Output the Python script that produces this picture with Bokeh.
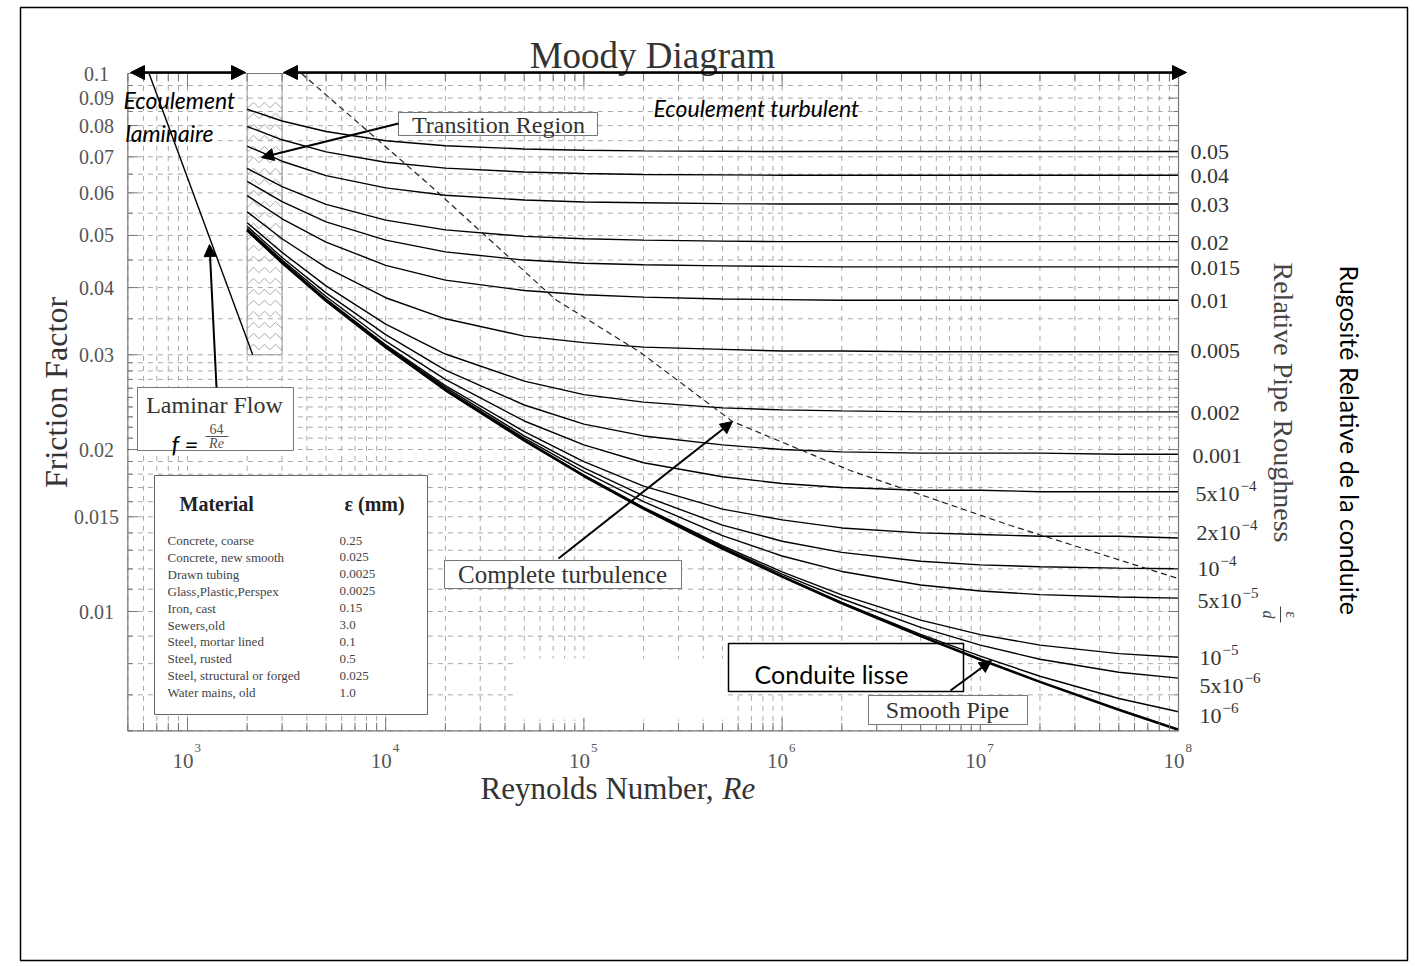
import math
from bokeh.plotting import figure
from bokeh.models import Range1d, LogScale, Arrow, NormalHead
from bokeh.core.properties import value
from bokeh.embed import file_html
from bokeh.resources import INLINE

# ---------------- data ----------------
RE = [2000, 3000, 5000, 1e4, 2e4, 5e4, 1e5, 2e5, 5e5, 1e6, 2e6, 5e6, 1e7, 2e7, 5e7, 1e8]

F_R0050 = [0.0858, 0.0816, 0.0780, 0.0750, 0.0734, 0.0724, 0.0720, 0.0718, 0.0717, 0.0716, 0.0716, 0.0716, 0.0716, 0.0716, 0.0716, 0.0716]
F_R0040 = [0.0797, 0.0753, 0.0715, 0.0684, 0.0667, 0.0656, 0.0652, 0.0649, 0.0648, 0.0647, 0.0647, 0.0647, 0.0647, 0.0647, 0.0647, 0.0647]
F_R0030 = [0.0733, 0.0687, 0.0646, 0.0613, 0.0594, 0.0582, 0.0577, 0.0575, 0.0573, 0.0572, 0.0572, 0.0572, 0.0572, 0.0572, 0.0572, 0.0572]
F_R0020 = [0.0666, 0.0616, 0.0571, 0.0534, 0.0512, 0.0498, 0.0493, 0.0490, 0.0488, 0.0487, 0.0487, 0.0487, 0.0487, 0.0487, 0.0487, 0.0487]
F_R0015 = [0.0630, 0.0578, 0.0530, 0.0490, 0.0466, 0.0450, 0.0444, 0.0441, 0.0439, 0.0438, 0.0437, 0.0437, 0.0437, 0.0437, 0.0437, 0.0437]
F_R0010 = [0.0593, 0.0537, 0.0486, 0.0440, 0.0413, 0.0395, 0.0388, 0.0384, 0.0381, 0.0380, 0.0379, 0.0379, 0.0379, 0.0379, 0.0379, 0.0379]
F_R0005 = [0.0553, 0.0493, 0.0436, 0.0383, 0.0350, 0.0325, 0.0316, 0.0310, 0.0307, 0.0305, 0.0305, 0.0304, 0.0304, 0.0304, 0.0304, 0.0304]
F_R0002 = [0.0528, 0.0465, 0.0403, 0.0342, 0.0301, 0.0268, 0.0253, 0.0245, 0.0239, 0.0237, 0.0236, 0.0235, 0.0235, 0.0235, 0.0235, 0.0235]
F_R0001 = [0.0520, 0.0455, 0.0391, 0.0327, 0.0281, 0.0242, 0.0223, 0.0212, 0.0204, 0.0200, 0.0198, 0.0197, 0.0197, 0.0197, 0.0196, 0.0196]
F_R5E4 = [0.0515, 0.0450, 0.0385, 0.0318, 0.0270, 0.0226, 0.0204, 0.0189, 0.0178, 0.0173, 0.0170, 0.0168, 0.0168, 0.0167, 0.0167, 0.0167]
F_R2E4 = [0.0513, 0.0447, 0.0381, 0.0313, 0.0263, 0.0216, 0.0190, 0.0171, 0.0155, 0.0148, 0.0143, 0.0140, 0.0139, 0.0138, 0.0138, 0.0137]
F_R1E4 = [0.0512, 0.0446, 0.0380, 0.0311, 0.0261, 0.0212, 0.0185, 0.0164, 0.01447, 0.01351, 0.01288, 0.01240, 0.01221, 0.01211, 0.01204, 0.01201]
F_R5E5 = [0.0511, 0.0445, 0.0379, 0.0311, 0.0259, 0.0210, 0.0182, 0.0160, 0.01384, 0.01268, 0.01187, 0.01120, 0.01092, 0.01075, 0.01064, 0.01059]
F_R1E5 = [0.0511, 0.0445, 0.0379, 0.0310, 0.0258, 0.0208, 0.01792, 0.01562, 0.01325, 0.01185, 0.01074, 0.00964, 0.00906, 0.00866, 0.00835, 0.00822]
F_R5E6 = [0.0511, 0.0445, 0.0379, 0.0310, 0.0258, 0.0208, 0.01789, 0.01558, 0.01317, 0.01173, 0.01056, 0.00934, 0.00866, 0.00815, 0.00771, 0.00752]
F_R1E6 = [0.0511, 0.0445, 0.0378, 0.0310, 0.0258, 0.0208, 0.01787, 0.01554, 0.01311, 0.01163, 0.01040, 0.00907, 0.00826, 0.00758, 0.00689, 0.00651]
F_SMOOTH = [0.0511, 0.0445, 0.0378, 0.0310, 0.0258, 0.0208, 0.01786, 0.01553, 0.01309, 0.01161, 0.01036, 0.00900, 0.00814, 0.00740, 0.00657, 0.00603]

ROUGH_CURVES = [F_R0050, F_R0040, F_R0030, F_R0020, F_R0015, F_R0010, F_R0005, F_R0002,
                F_R0001, F_R5E4, F_R2E4, F_R1E4, F_R5E5, F_R1E5, F_R5E6, F_R1E6]
# right-hand labels: mantissa part and exponent part
ROUGH_BASE = ["0.05", "0.04", "0.03", "0.02", "0.015", "0.01", "0.005", "0.002",
              "0.001", "5x10", "2x10", "10", "5x10", "10", "5x10", "10"]
ROUGH_EXP = ["", "", "", "", "", "", "", "", "",
             "\u22124", "\u22124", "\u22124", "\u22125", "\u22125", "\u22126", "\u22126"]

LAMINAR_RE = [640, 2133]
LAMINAR_F = [0.1, 0.03]

BOUNDARY_RE = [3760, 17200, 71900, 193000, 562000, 2.21e6, 1.42e7, 1e8]
BOUNDARY_F = [0.1, 0.0614, 0.0380, 0.0303, 0.02255, 0.01828, 0.01445, 0.01151]

TRANSITION_RE = [2000, 3000]
TRANSITION_F = [0.03, 0.09]

RE_MIN, RE_MAX = 500, 1e8
F_MIN, F_MAX = 0.006, 0.1

X_TICKS = [1e3, 1e4, 1e5, 1e6, 1e7, 1e8]
X_TICK_EXP = ["3", "4", "5", "6", "7", "8"]
Y_TICKS = [0.01, 0.015, 0.02, 0.03, 0.04, 0.05, 0.06, 0.07, 0.08, 0.09, 0.1]
Y_TICK_LABELS = ["0.01", "0.015", "0.02", "0.03", "0.04", "0.05", "0.06", "0.07", "0.08", "0.09", "0.1"]
Y_GRID = [round(0.006 + 0.001 * i, 3) for i in range(25)] + [round(0.035 + 0.005 * i, 3) for i in range(14)]
X_GRID = [m * 10 ** e for e in range(2, 8) for m in range(1, 10) if RE_MIN <= m * 10 ** e <= RE_MAX] + [RE_MAX]

MATERIALS = ["Concrete, coarse", "Concrete, new smooth", "Drawn tubing", "Glass,Plastic,Perspex",
             "Iron, cast", "Sewers,old", "Steel, mortar lined", "Steel, rusted",
             "Steel, structural or forged", "Water mains, old"]
EPS_MM = ["0.25", "0.025", "0.0025", "0.0025", "0.15", "3.0", "0.1", "0.5", "0.025", "1.0"]

# ---------------- layout (page pixels) ----------------
W, H = 1412, 964
OX, OY = 0, 0
X_DEC, X_E3 = 198.2, 187.0   # px per decade, page x of Re = 1e3
Y_DEC, Y_E1 = 538.0, 73.0    # px per decade, page y of f = 0.1


def xpx(re):
    return X_E3 + X_DEC * (math.log10(re) - 3)


def ypx(f):
    return Y_E1 + Y_DEC * (-1 - math.log10(f))


re_left = 10 ** (3 - (X_E3 - OX) / X_DEC)
re_right = 10 ** (3 + (OX + W - X_E3) / X_DEC)
f_top = 10 ** (-1 + (Y_E1 - OY) / Y_DEC)
f_bottom = 10 ** (-1 - (OY + H - Y_E1) / Y_DEC)

p = figure(width=W, height=H, x_range=Range1d(OX, OX + W), y_range=Range1d(OY + H, OY),
           x_axis_location=None, y_axis_location=None, min_border=0, title=None,
           output_backend="svg", toolbar_location=None)
p.grid.visible = False
p.outline_line_color = None
p.background_fill_color = "white"
p.border_fill_color = "white"
p.extra_x_ranges = {"re": Range1d(re_left, re_right)}
p.extra_x_scales = {"re": LogScale()}
p.extra_y_ranges = {"f": Range1d(f_bottom, f_top)}
p.extra_y_scales = {"f": LogScale()}

GRID_COL = "#a8a8a8"
AX_COL = "#777777"
SERIF = "Liberation Serif"
SANS = "Lato"


def txt(x, y, s, size, font=SERIF, color="#333333", align="left", baseline="middle",
        style="normal", angle=0.0, xr="default", yr="default"):
    p.text(x=[x], y=[y], text=[s], text_font=value(font), text_font_size=f"{size}px",
           text_color=color, text_align=align, text_baseline=baseline,
           text_font_style=style, angle=angle, x_range_name=xr, y_range_name=yr)


def box(l, t, r, b, line="#777777", lw=1.0, fill="white"):
    p.quad(left=[l], right=[r], top=[t], bottom=[b], fill_color=fill, line_color=line, line_width=lw)


def arrow(x0, y0, x1, y1, both=False, size=12, lw=2.0):
    kw = dict(end=NormalHead(size=size, fill_color="black", line_color="black"),
              x_start=x0, y_start=y0, x_end=x1, y_end=y1, line_width=lw, line_color="black")
    if both:
        kw["start"] = NormalHead(size=size, fill_color="black", line_color="black")
    p.add_layout(Arrow(**kw))


# outer border
p.quad(left=[20], right=[1407], top=[7], bottom=[960], fill_color=None, line_color="black", line_width=1.5)

# grid
p.segment(x0=X_GRID, x1=X_GRID, y0=[F_MIN] * len(X_GRID), y1=[F_MAX] * len(X_GRID),
          x_range_name="re", y_range_name="f", line_color=GRID_COL, line_width=1, line_dash="5 5")
p.segment(x0=[RE_MIN] * len(Y_GRID), x1=[RE_MAX] * len(Y_GRID), y0=Y_GRID, y1=Y_GRID,
          x_range_name="re", y_range_name="f", line_color=GRID_COL, line_width=1, line_dash="5 5")

# white patch that hides the grid under the figure
p.quad(left=[515], right=[723], top=[658], bottom=[719], fill_color="white", line_color=None)

# material table
box(154, 475, 427, 714, line="#666666")
txt(179, 503, "Material", 20, style="bold", baseline="alphabetic", color="#222222")
txt(344, 503, "\u03b5 (mm)", 20, style="bold", baseline="alphabetic", color="#222222")
for i, (m, e) in enumerate(zip(MATERIALS, EPS_MM)):
    yb = 540 + 16.9 * i
    txt(167, yb, m, 13, baseline="alphabetic", color="#444444")
    txt(339, yb, e, 13, baseline="alphabetic", color="#444444")

# transition region
p.quad(left=[TRANSITION_RE[0]], right=[TRANSITION_RE[1]], bottom=[TRANSITION_F[0]], top=[TRANSITION_F[1]],
       x_range_name="re", y_range_name="f", fill_color=None, line_color=None,
       hatch_pattern="horizontal_wave", hatch_color="#aaaaaa", hatch_scale=11, hatch_weight=1)
p.quad(left=[TRANSITION_RE[0]], right=[TRANSITION_RE[1]], bottom=[TRANSITION_F[0]], top=[F_MAX],
       x_range_name="re", y_range_name="f", fill_color=None, line_color="#999999", line_width=1)

# "Conduite lisse" box (under the curves)
box(728, 643, 963, 691, line="black", lw=1.5)

# curves
for fv in ROUGH_CURVES:
    p.line(RE, fv, x_range_name="re", y_range_name="f", line_color="black", line_width=1.4)
p.line(RE, F_SMOOTH, x_range_name="re", y_range_name="f", line_color="black", line_width=2.6)
p.line(LAMINAR_RE, LAMINAR_F, x_range_name="re", y_range_name="f", line_color="black", line_width=1.4)
p.line(BOUNDARY_RE, BOUNDARY_F, x_range_name="re", y_range_name="f", line_color="#222222",
       line_width=1.2, line_dash="6 4")

# frame
p.quad(left=[RE_MIN], right=[RE_MAX], bottom=[F_MIN], top=[F_MAX], x_range_name="re", y_range_name="f",
       fill_color=None, line_color=AX_COL, line_width=1.2)

# ticks
xl, xr_ = xpx(RE_MIN), xpx(RE_MAX)
yb_, yt_ = ypx(F_MIN), ypx(F_MAX)
ylen = [10 if v in Y_TICKS else 5 for v in Y_GRID]
p.segment(x0=[xl] * len(Y_GRID), x1=[xl + L for L in ylen], y0=Y_GRID, y1=Y_GRID,
          y_range_name="f", line_color=AX_COL, line_width=1)
p.segment(x0=[xr_] * len(Y_GRID), x1=[xr_ - L for L in ylen], y0=Y_GRID, y1=Y_GRID,
          y_range_name="f", line_color=AX_COL, line_width=1)
xlen = [13 if v in X_TICKS else 8 for v in X_GRID]
p.segment(x0=X_GRID, x1=X_GRID, y0=[yb_] * len(X_GRID), y1=[yb_ - L for L in xlen],
          x_range_name="re", line_color=AX_COL, line_width=1)
p.segment(x0=X_GRID, x1=X_GRID, y0=[yt_] * len(X_GRID), y1=[yt_ + L for L in xlen],
          x_range_name="re", line_color=AX_COL, line_width=1)

# tick labels
p.text(x=[96] * len(Y_TICKS), y=Y_TICKS, text=Y_TICK_LABELS, y_range_name="f",
       text_font=value(SERIF), text_font_size="20px", text_color="#555555",
       text_align="center", text_baseline="middle")
p.text(x=X_TICKS, y=[760] * len(X_TICKS), text=["10"] * len(X_TICKS), x_range_name="re",
       x_offset=6, text_font=value(SERIF), text_font_size="21px", text_color="#555555",
       text_align="right", text_baseline="middle")
p.text(x=X_TICKS, y=[747] * len(X_TICKS), text=X_TICK_EXP, x_range_name="re",
       x_offset=7, text_font=value(SERIF), text_font_size="13px", text_color="#555555",
       text_align="left", text_baseline="middle")

# right labels (relative roughness of each curve)
RL_X = [1190] * 8 + [1192, 1195, 1196, 1197, 1197, 1199, 1199, 1199]
RL_Y = [151, 175, 204, 242, 267, 300, 350, 412, 455, 493, 532, 568, 600, 657, 685, 715]
RL_FS = 22
p.text(x=RL_X, y=RL_Y, text=ROUGH_BASE, text_font=value(SERIF), text_font_size=f"{RL_FS}px",
       text_color="#333333", text_align="left", text_baseline="middle")
EXP_X = [x + 0.5 * RL_FS * len(b) + 1 for x, b in zip(RL_X, ROUGH_BASE)]
EXP_Y = [y - 8 for y in RL_Y]
p.text(x=[ex for ex, e in zip(EXP_X, ROUGH_EXP) if e], y=[ey for ey, e in zip(EXP_Y, ROUGH_EXP) if e],
       text=[e for e in ROUGH_EXP if e], text_font=value(SERIF), text_font_size="15px",
       text_color="#333333", text_align="left", text_baseline="middle")

# titles and axis labels
txt(652, 55, "Moody Diagram", 37, baseline="alphabetic", align="center", color="#333333")
txt(713, 788, "Reynolds Number,", 31, align="right", color="#333333")
txt(722, 788, "Re", 31, style="italic", color="#333333")
txt(55, 392, "Friction Factor", 32, align="center", angle=math.pi / 2, color="#333333")
txt(1283, 262, "Relative Pipe Roughness", 28, align="left", angle=-math.pi / 2, color="#444444")
txt(1291, 614, "\u03b5", 16, align="center", angle=-math.pi / 2, color="#444444")
txt(1268, 614, "d", 16, align="center", angle=-math.pi / 2, color="#444444", style="italic")
p.segment(x0=[1280], x1=[1280], y0=[606], y1=[622], line_color="#444444", line_width=1)
txt(1349, 265, "Rugosit\u00e9 Relative de la conduite", 25, font=SANS, align="left",
    angle=-math.pi / 2, color="black")

# laminar / turbulent arrows and texts
arrow(130, 72, 245, 72, both=True, size=14, lw=2.5)
arrow(283, 72, 1186, 72, both=True, size=14, lw=2.5)
txt(123, 99, "Ecoulement", 23, font=SANS, style="italic", baseline="alphabetic", color="black")
txt(125, 132, "laminaire", 23, font=SANS, style="italic", baseline="alphabetic", color="black")
txt(653, 107, "Ecoulement turbulent", 23, font=SANS, style="italic", baseline="alphabetic", color="black")

# annotation boxes
box(398, 112, 597, 135)
txt(498, 124, "Transition Region", 24, align="center")
arrow(398, 123, 261, 157, size=12, lw=2)

box(137, 387, 293, 450)
txt(214, 404, "Laminar Flow", 24, align="center")
txt(171, 443, "f =", 24, font=SANS, style="italic", baseline="alphabetic", color="black")
txt(216, 428, "64", 14, align="center", color="#555555")
p.segment(x0=[205], x1=[228], y0=[436], y1=[436], line_color="#555555", line_width=1)
txt(216, 443, "Re", 14, align="center", style="italic", color="#555555")
arrow(216, 387, 209, 244, size=12, lw=2)

box(444, 560, 681, 588)
txt(562, 574, "Complete turbulence", 25, align="center")
arrow(558, 558, 732, 421, size=12, lw=2)

box(868, 695, 1027, 724)
txt(947, 709, "Smooth Pipe", 24, align="center")

txt(831, 673, "Conduite lisse", 25, font=SANS, align="center", color="black")
arrow(950, 690, 991, 660, size=12, lw=2)

open("out.html", "w").write(file_html(p, INLINE))
